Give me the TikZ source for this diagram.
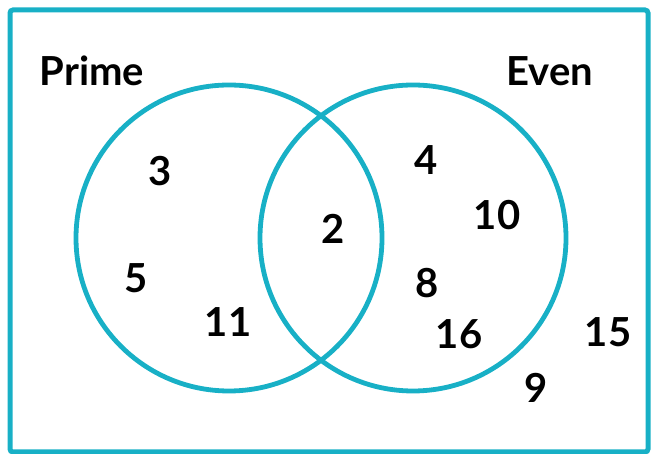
\documentclass[tikz,border=0pt]{standalone}
\usepackage{fontspec}
\setmainfont{Lato}
\usetikzlibrary{positioning}
\definecolor{cSet}{RGB}{24,176,198}

\begin{document}
\begin{tikzpicture}[x=1pt, y=1pt,
    setcircle/.style={draw=cSet, line width=4.8pt, circle, inner sep=0pt, minimum size=306pt},
    num/.style={font=\fontsize{40}{44}\selectfont\bfseries, inner sep=0pt},
    setname/.style={font=\fontsize{40}{44}\selectfont\bfseries, inner sep=0pt}]
        \useasboundingbox (0,0) rectangle (652,454);
        \draw[cSet, line width=5pt, rounded corners=3pt] (10,2) rectangle (648,444);
        % the two sets
        \node[setcircle] (prime) at (229,216) {};
        \node[setcircle] (even) at (413,216) {};
        \node[setname] (primelbl) at (92,383) {Prime};
        \node[setname] (evenlbl) at (550,383) {Even};
        % prime only
        \node[num] (n3) at (160,283) {3};
        \node[num] (n5) at (136,176) {5};
        \node[num] (n11) at (228,132) {11};
        % both
        \node[num] (n2) at (333,225) {2};
        % even only
        \node[num] (n4) at (426,294) {4};
        \node[num] (n10) at (497,239) {10};
        \node[num] (n8) at (427,171) {8};
        \node[num] (n16) at (459,120) {16};
        % neither
        \node[num] (n15) at (608,122) {15};
        \node[num] (n9) at (536,66) {9};
      \end{tikzpicture}
\end{document}
